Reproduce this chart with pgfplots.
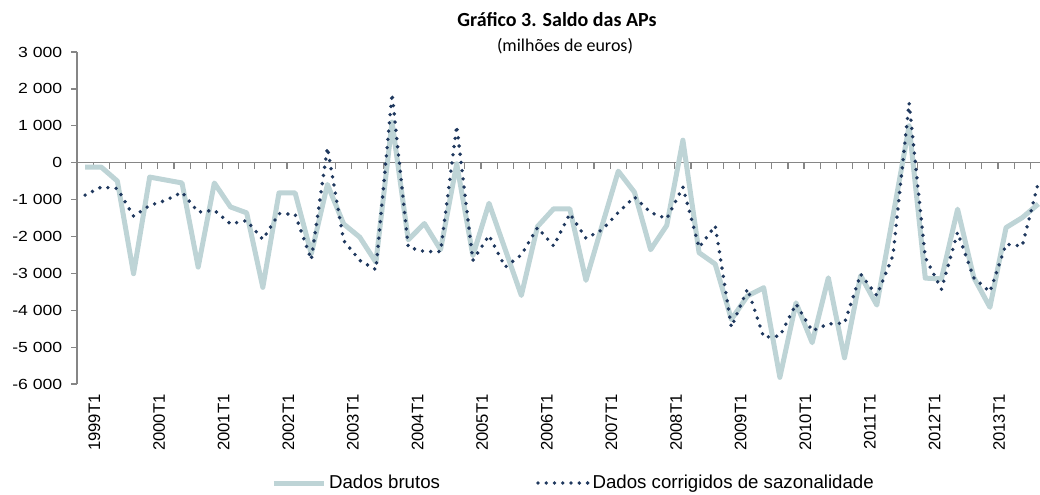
\documentclass[border=0pt]{standalone}
\usepackage{fontspec}
\setmainfont{Liberation Sans}
\newfontfamily\calibri{Carlito}
\newfontfamily\ytfont{Liberation Sans}[FakeStretch=1.2]
\usepackage{pgfplots}
\pgfplotsset{compat=1.18}
\usepackage{pgfplotstable}
\definecolor{rawc}{RGB}{190,212,214}
\definecolor{sac}{RGB}{31,56,94}
\definecolor{axc}{RGB}{134,134,134}
\pgfplotstableread{
i raw sa
0 -120 -880
1 -120 -660
2 -500 -700
3 -3010 -1450
4 -390 -1160
5 -470 -1020
6 -550 -800
7 -2830 -1340
8 -550 -1290
9 -1200 -1660
10 -1360 -1570
11 -3380 -2080
12 -820 -1380
13 -820 -1400
14 -2470 -2630
15 -590 410
16 -1660 -2110
17 -2020 -2650
18 -2700 -2900
19 1100 1870
20 -2090 -2290
21 -1650 -2410
22 -2360 -2410
23 -30 1000
24 -2520 -2650
25 -1100 -1970
26 -2350 -2830
27 -3600 -2500
28 -1730 -1760
29 -1250 -2260
30 -1250 -1380
31 -3190 -2050
32 -1700 -1820
33 -230 -1350
34 -800 -930
35 -2360 -1350
36 -1700 -1520
37 610 -660
38 -2440 -2300
39 -2750 -1710
40 -4250 -4460
41 -3610 -3420
42 -3390 -4730
43 -5820 -4700
44 -3800 -3830
45 -4880 -4560
46 -3120 -4370
47 -5290 -4350
48 -3060 -3020
49 -3860 -3600
50 -1450 -2520
51 1000 1620
52 -3130 -2570
53 -3150 -3430
54 -1260 -1890
55 -3110 -3120
56 -3920 -3500
57 -1760 -2210
58 -1490 -2260
59 -1120 -530
}\datatable
\begin{document}
\begin{tikzpicture}
\path[use as bounding box] (-57.75pt,-82.5pt) rectangle (722.25pt,288pt);
\begin{axis}[
  at={(0,0)}, anchor=south west,
  width=722.25pt, height=249pt, scale only axis,
  xmin=-0.5, xmax=59.1, ymin=-6000, ymax=3000,
  axis y line*=left, axis x line*=bottom,
  x axis line style={draw=none},
  y axis line style={draw=axc, line width=0.9pt},
  ytick={-6000,-5000,...,3000},
  ytick style={draw=axc, line width=0.9pt},
  tick align=outside, major tick length=4.2pt,
  xtick={0,4,...,56},
  xticklabels={1999T1,2000T1,2001T1,2002T1,2003T1,2004T1,2005T1,2006T1,2007T1,2008T1,2009T1,2010T1,2011T1,2012T1,2013T1},
  xtick style={draw=none},
  xticklabel style={rotate=90, anchor=east, font=\fontsize{12.5}{14}\selectfont, yshift=-7pt},
  yticklabel style={font=\ytfont\fontsize{11}{13}\selectfont, xshift=-3.3pt},
  /pgf/number format/assume math mode=true,
  /pgf/number format/1000 sep={\ },
  legend style={at={(0.516,0)}, anchor=center, yshift=-74.25pt, draw=none, fill=none,
    font=\fontsize{14}{16}\selectfont, legend columns=2,
    /tikz/every even column/.append style={column sep=70pt}},
  legend image code/.code={\draw[#1] (0pt,0pt) -- (37.5pt,0pt);},
  legend cell align=left,
]
\draw[axc, line width=0.9pt] (axis cs:-0.5,0) -- (axis cs:59.1,0);
\pgfplotsinvokeforeach{0,...,58}{
  \draw[axc, line width=0.9pt] (axis cs:#1+0.5,0) -- ([yshift=-4.5pt]axis cs:#1+0.5,0);
}
\addplot[rawc, line width=3.75pt, line join=round] table[x=i, y=raw] {\datatable};
\addlegendentry{Dados brutos}
\addplot[sac, line width=2.9pt, line cap=round, dash pattern=on 0pt off 6.2pt, line join=round] table[x=i, y=sa] {\datatable};
\addlegendentry{Dados corrigidos de sazonalidade}
\end{axis}
\node[font=\calibri\bfseries\fontsize{15}{17}\selectfont] at (360pt,273pt) {Gráfico 3. Saldo das APs};
\node[font=\calibri\fontsize{13.5}{16}\selectfont] at (366pt,253.5pt) {(milhões de euros)};
\end{tikzpicture}
\end{document}
